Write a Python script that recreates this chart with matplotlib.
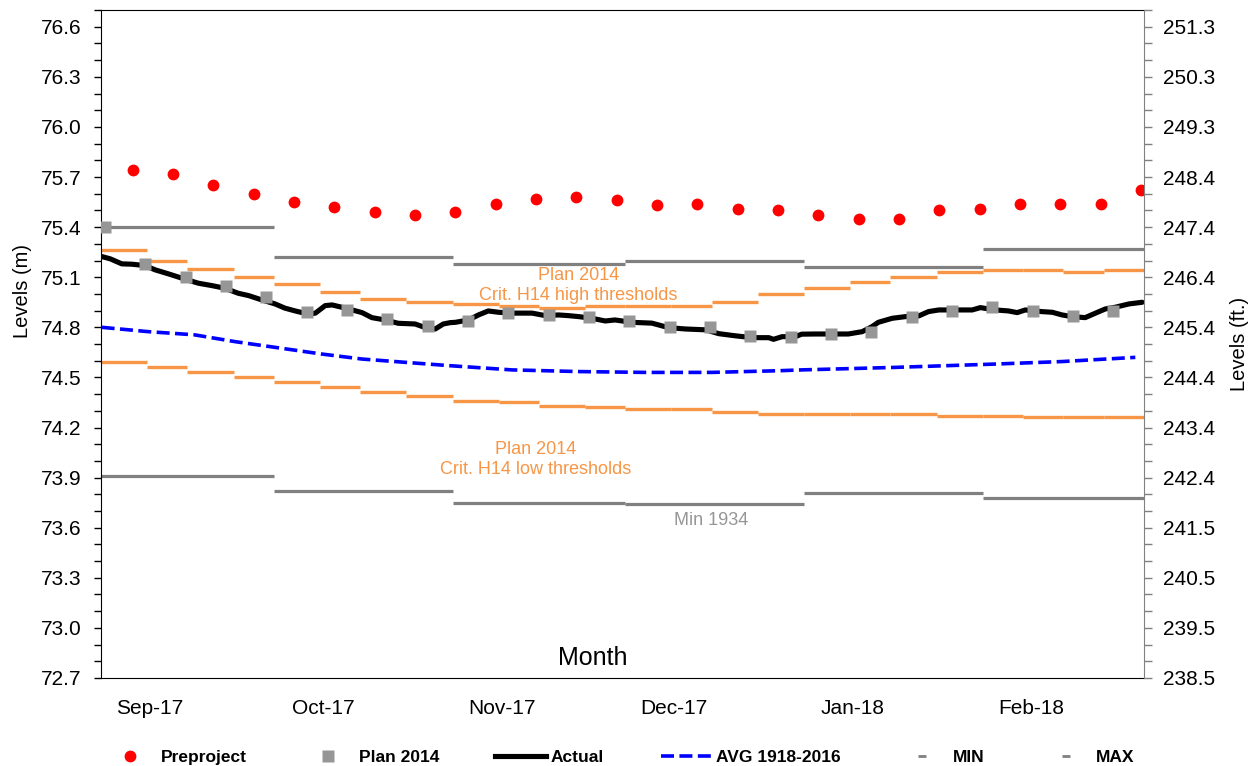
import pandas as pd
import numpy as np
import matplotlib
matplotlib.use('Agg')
import matplotlib.pyplot as plt
from matplotlib.lines import Line2D
from matplotlib.ticker import MultipleLocator

plt.rcParams['font.family'] = ['Liberation Sans', 'DejaVu Sans']

start = pd.Timestamp('2017-09-01')

def day(d):
    # days elapsed since the start of the period
    return (pd.to_datetime(d) - start) / pd.Timedelta(days=1)

# Monthly record envelope
month_starts = ['2017-09-01', '2017-10-01', '2017-11-01', '2017-12-01',
                '2018-01-01', '2018-02-01', '2018-03-01']
month_labels = ['Sep-17', 'Oct-17', 'Nov-17', 'Dec-17', 'Jan-18', 'Feb-18']
max_levels = [75.40, 75.22, 75.18, 75.20, 75.16, 75.27]
min_levels = [73.91, 73.82, 73.75, 73.74, 73.81, 73.78]

# Plan 2014 H14 quarter-monthly thresholds
qm_starts = ['2017-09-01', '2017-09-09', '2017-09-16', '2017-09-24',
             '2017-10-01', '2017-10-09', '2017-10-16', '2017-10-24',
             '2017-11-01', '2017-11-09', '2017-11-16', '2017-11-24',
             '2017-12-01', '2017-12-09', '2017-12-16', '2017-12-24',
             '2018-01-01', '2018-01-09', '2018-01-16', '2018-01-24',
             '2018-02-01', '2018-02-08', '2018-02-15', '2018-02-22',
             '2018-03-01']
h14_high = [75.26, 75.20, 75.15, 75.10,
            75.06, 75.01, 74.97, 74.95,
            74.94, 74.93, 74.915, 74.925,
            74.93, 74.93, 74.95, 75.00,
            75.035, 75.07, 75.10, 75.13,
            75.145, 75.145, 75.13, 75.145]
h14_low = [74.59, 74.56, 74.53, 74.50,
           74.47, 74.44, 74.41, 74.39,
           74.36, 74.35, 74.33, 74.32,
           74.31, 74.31, 74.295, 74.28,
           74.28, 74.28, 74.28, 74.27,
           74.27, 74.26, 74.26, 74.26]

# Weekly series
preproject_dates = pd.date_range('2017-09-06 12:00', periods=26, freq='7D')
preproject = [75.74, 75.72, 75.65, 75.60, 75.55, 75.52, 75.49, 75.47, 75.49,
              75.54, 75.57, 75.58, 75.56, 75.53, 75.54, 75.51, 75.50, 75.47,
              75.45, 75.45, 75.50, 75.51, 75.54, 75.54, 75.54, 75.62]
plan_dates = pd.date_range('2017-09-01 17:00', periods=26, freq='7D')
plan2014 = [75.40, 75.18, 75.10, 75.045, 74.98, 74.89, 74.905, 74.85, 74.81,
            74.84, 74.885, 74.875, 74.86, 74.84, 74.80, 74.80, 74.75, 74.74,
            74.76, 74.77, 74.86, 74.90, 74.92, 74.90, 74.87, 74.90]

# Observed levels
actual_day = [0.1, 1.6, 3.6, 5.3, 7.6, 9.4, 11.7, 14.6, 16.9, 19.2, 21.5, 23.8,
              25.6, 27.9, 30.2, 31.9, 33.7, 36.0, 37.2, 38.9, 40.1, 42.4, 45.3,
              47.0, 49.3, 51.6, 54.5, 56.3, 58.0, 59.4, 60.6, 61.5, 63.8, 65.5,
              67.2, 69.0, 71.3, 74.8, 77.1, 79.4, 81.1, 82.9, 85.2, 87.5, 89.2,
              92.1, 95.6, 98.5, 101.4, 104.9, 107.2, 110.1, 113.0, 115.9, 116.7,
              118.2, 120.5, 121.6, 124.0, 127.4, 129.7, 132.1, 133.8, 134.9,
              137.3, 139.6, 141.9, 143.6, 145.4, 148.3, 151.2, 152.6, 155.2,
              157.5, 159.0, 160.4, 163.3, 165.1, 166.8, 168.5, 170.8, 172.6,
              174.3, 176.0, 178.4, 180.7]
actual = [75.224, 75.21, 75.18, 75.178, 75.17, 75.144, 75.12, 75.088, 75.064,
          75.05, 75.034, 75.004, 74.99, 74.964, 74.94, 74.915, 74.898, 74.879,
          74.885, 74.93, 74.934, 74.915, 74.888, 74.858, 74.844, 74.824, 74.82,
          74.798, 74.79, 74.82, 74.828, 74.83, 74.844, 74.874, 74.898, 74.89,
          74.885, 74.885, 74.87, 74.874, 74.87, 74.864, 74.854, 74.838, 74.844,
          74.83, 74.825, 74.798, 74.79, 74.785, 74.762, 74.749, 74.738, 74.738,
          74.728, 74.744, 74.744, 74.759, 74.76, 74.76, 74.76, 74.774, 74.804,
          74.83, 74.854, 74.864, 74.868, 74.894, 74.904, 74.904, 74.904, 74.918,
          74.904, 74.898, 74.888, 74.904, 74.894, 74.89, 74.874, 74.864, 74.858,
          74.885, 74.91, 74.92, 74.94, 74.95]

# Long-term average
avg_day = [0.1, 8.2, 16.2, 23.3, 30.2, 38.3, 45.3, 53.3, 60.6, 71.3, 82.9,
           94.4, 106.0, 117.6, 121.6, 137.8, 155.2, 166.8, 179.5]
avg_level = [74.80, 74.774, 74.755, 74.714, 74.68, 74.64, 74.61, 74.589, 74.57,
             74.545, 74.535, 74.53, 74.53, 74.54, 74.545, 74.56, 74.58, 74.595,
             74.62]

# Right-hand axis labels in feet
ft_labels = ['251.3', '250.3', '249.3', '248.4', '247.4', '246.4', '245.4',
             '244.4', '243.4', '242.4', '241.5', '240.5', '239.5', '238.5']
m_ticks = [76.6, 76.3, 76.0, 75.7, 75.4, 75.1, 74.8, 74.5, 74.2, 73.9, 73.6,
           73.3, 73.0, 72.7]

GRAY = '#808080'
ORANGE = '#f79646'
SQUARE = '#969696'

fig = plt.figure(figsize=(12.6, 7.66), dpi=100)
ax = fig.add_axes([0.0802, 0.1149, 0.8277, 0.872])
ax2 = ax.twinx()

m_days = [day(d) for d in month_starts]
qm_days = [day(d) for d in qm_starts]

ax.hlines(max_levels, m_days[:-1], m_days[1:], color=GRAY, lw=2.3, zorder=2)
ax.hlines(min_levels, m_days[:-1], m_days[1:], color=GRAY, lw=2.3, zorder=2)
ax.hlines(h14_high, qm_days[:-1], qm_days[1:], color=ORANGE, lw=2.4, zorder=2)
ax.hlines(h14_low, qm_days[:-1], qm_days[1:], color=ORANGE, lw=2.4, zorder=2)

ax.plot(avg_day, avg_level, color='#0000ff', lw=2.6, dashes=(3.6, 1.5), zorder=3)
ax.plot(actual_day, actual, color='black', lw=3.7, solid_joinstyle='round',
        solid_capstyle='round', zorder=4)
ax.plot(day(plan_dates), plan2014, ls='none', marker='s', ms=8, color=SQUARE,
        mec='none', zorder=5)
ax.plot(day(preproject_dates), preproject, ls='none', marker='o', ms=8.5,
        color='#ff0000', mec='none', zorder=5)

ax.text(82.8, 75.05, 'Plan 2014\nCrit. H14 high thresholds', color=ORANGE,
        fontsize=13, ha='center', va='center', linespacing=1.25)
ax.text(75.5, 74.01, 'Plan 2014\nCrit. H14 low thresholds', color=ORANGE,
        fontsize=13, ha='center', va='center', linespacing=1.25)
ax.text(105.9, 73.646, 'Min 1934', color='#969696', fontsize=13,
        ha='center', va='center')
ax.text(0.471, 0.03, 'Month', transform=ax.transAxes, fontsize=18,
        ha='center', va='center')

ax.set_xlim(0, day('2018-03-01'))
ax.set_ylim(72.7, 76.7)
ax2.set_ylim(72.7, 76.7)

ax.set_xticks([d + 8.5 for d in m_days[:-1]])
ax.set_xticklabels(month_labels)
ax.tick_params(axis='x', length=0, pad=15, labelsize=15)

ax.set_yticks(m_ticks)
ax.set_yticklabels([f'{v:.1f}' for v in m_ticks])
ax.yaxis.set_minor_locator(MultipleLocator(0.1))
ax.tick_params(axis='y', which='both', direction='out', length=5, width=1,
               pad=9, labelsize=15)
ax.set_ylabel('Levels (m)', fontsize=14.5)
ax.yaxis.set_label_coords(-0.066, 0.58)

ax2.set_yticks(m_ticks)
ax2.set_yticklabels(ft_labels)
ax2.yaxis.set_minor_locator(MultipleLocator(0.1))
ax2.tick_params(axis='y', which='both', direction='out', length=6, width=1,
                color=GRAY, pad=8, labelsize=15)
ax2.set_ylabel('Levels (ft.)', fontsize=14.5, rotation=90, labelpad=10)

for side in ['left', 'top', 'bottom']:
    ax.spines[side].set_color('black')
    ax2.spines[side].set_visible(False)
ax.spines['right'].set_visible(False)
ax2.spines['right'].set_color(GRAY)

handles = [
    Line2D([], [], ls='none', marker='o', ms=8.5, color='#ff0000', mec='none'),
    Line2D([], [], ls='none', marker='s', ms=8, color=SQUARE, mec='none'),
    Line2D([], [], color='black', lw=3.7),
    Line2D([], [], color='#0000ff', lw=2.6, dashes=(3.6, 1.5)),
    Line2D([], [], ls='none', marker='_', ms=6, mew=2, color=GRAY),
    Line2D([], [], ls='none', marker='_', ms=6, mew=2, color=GRAY),
]
labels = ['Preproject', 'Plan 2014', 'Actual', 'AVG 1918-2016', 'MIN', 'MAX']
fig.legend(handles, labels, loc='center', bbox_to_anchor=(0.492, 0.0117),
           ncol=6, frameon=False, handlelength=2.9, handletextpad=0.3,
           columnspacing=3.25, borderpad=0, prop={'weight': 'bold', 'size': 12.5})

fig.savefig('out.png', dpi=100)
